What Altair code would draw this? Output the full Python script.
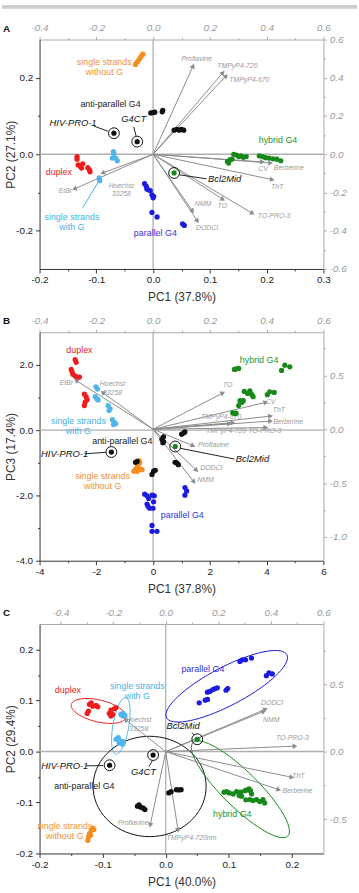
import math
import altair as alt
import pandas as pd

FONT = "Liberation Sans"
PLOT_W = 287
MINUS = "\u2212"

# point colours and label colours per structural family
POINT_COLORS = {
    "duplex": "#ee1c1c",
    "with G": "#52b4ec",
    "without G": "#f68d1e",
    "parallel": "#1c1ce0",
    "hybrid": "#16891a",
    "anti": "#111111",
}
TEXT_COLORS = {
    "duplex": "#e52424",
    "with G": "#48b2ea",
    "without G": "#f39233",
    "parallel": "#3434d8",
    "hybrid": "#23952a",
    "anti": "#222222",
}

# ---------------- panel A : PC1 vs PC2 ----------------
A_DUPLEX = [(-0.134, -0.006), (-0.134, -0.013), (-0.132, -0.028), (-0.128, -0.032), (-0.124, -0.025),
            (-0.126, -0.036), (-0.115, -0.035), (-0.112, -0.041), (-0.111, -0.046)]
A_WITH_G = [(-0.070, 0.007), (-0.069, 0.001), (-0.072, -0.010), (-0.066, -0.010), (-0.063, -0.017),
            (-0.095, -0.062), (-0.094, -0.069)]
A_WITHOUT_G = [(-0.031, 0.235), (-0.028, 0.241), (-0.025, 0.247), (-0.022, 0.254), (-0.019, 0.260),
               (-0.018, 0.262)]
A_PARALLEL = [(-0.015, -0.077), (-0.012, -0.084), (-0.011, -0.091), (-0.008, -0.093), (-0.005, -0.095),
              (-0.002, -0.106), (0.001, -0.110), (0.000, -0.114), (-0.002, -0.152), (0.007, -0.164),
              (0.052, -0.182), (0.055, -0.186)]
A_HYBRID = [(0.131, -0.019), (0.135, -0.015), (0.133, -0.023), (0.139, -0.013), (0.142, 0.000),
            (0.147, -0.002), (0.151, -0.006), (0.155, -0.004), (0.159, -0.008), (0.164, -0.006),
            (0.187, -0.004), (0.193, -0.006), (0.198, -0.009), (0.204, -0.010), (0.211, -0.012),
            (0.218, -0.013), (0.225, -0.017)]
A_ANTI = [(-0.004, 0.108), (0.000, 0.109), (0.003, 0.110), (0.017, 0.115), (0.016, 0.111),
          (0.037, 0.063), (0.042, 0.065), (0.046, 0.063), (0.050, 0.065), (0.054, 0.063)]
A_MARKED = [("HIV-PRO-1", -0.069, 0.055, "anti"), ("G4CT", -0.028, 0.033, "anti"),
            ("Bcl2Mid", 0.037, -0.049, "hybrid")]
A_PROBES = ["Proflavine", "TMPyP4-720", "TMPyP4-670", "CV", "Berberine", "ThT", "TO-PRO-3", "TO",
            "NMM", "DODCI", "EtBr", "Hoechst\n33258"]
A_LOAD_X = [0.141, 0.246, 0.257, 0.385, 0.414, 0.420, 0.350, 0.246, 0.139, 0.156, -0.277, -0.178]
A_LOAD_Y = [0.462, 0.427, 0.410, -0.040, -0.046, -0.133, -0.309, -0.236, -0.297, -0.349, -0.181, -0.098]
A_LABEL_X = [0.153, 0.297, 0.339, 0.387, 0.478, 0.437, 0.426, 0.244, 0.176, 0.190, -0.309, -0.112]
A_LABEL_Y = [0.500, 0.462, 0.388, -0.076, -0.072, -0.173, -0.323, -0.271, -0.259, -0.388, -0.190, -0.164]
A_GROUP_LABELS = [("single strands\nwithout G", -0.086, 0.2405, "without G"),
                  ("anti-parallel G4", -0.075, 0.1306, "anti"),
                  ("hybrid G4", 0.220, 0.037, "hybrid"),
                  ("duplex", -0.166, -0.047, "duplex"),
                  ("single strands\nwith G", -0.143, -0.164, "with G"),
                  ("parallel G4", 0.004, -0.205, "parallel")]
A_NAME_LABELS = [("HIV-PRO-1", -0.141, 0.082), ("G4CT", -0.034, 0.091), ("Bcl2Mid", 0.126, -0.065)]
A_LEADERS = [(-0.104, 0.0735, -0.080, 0.0605, "anti"), (-0.034, 0.0717, -0.030, 0.0475, "anti"),
             (0.0465, -0.0538, 0.094, -0.0642, "anti"), (-0.0977, -0.0753, -0.124, -0.140, "with G")]

# ---------------- panel B : PC1 vs PC3 ----------------
B_DUPLEX = [(-2.746, 2.163), (-2.711, 2.081), (-2.885, 1.861), (-2.850, 1.780), (-2.826, 1.710),
            (-2.746, 1.659), (-2.676, 1.629), (-2.596, 1.629), (-2.422, 1.107), (-2.362, 1.026),
            (-2.328, 0.935), (-2.397, 0.854), (-2.422, 0.754)]
B_WITH_G = [(-2.014, 1.327), (-1.955, 1.258), (-2.038, 1.026), (-1.979, 0.956), (-1.934, 0.926),
            (-1.585, 0.754), (-1.516, 0.655), (-1.551, 0.603), (-1.432, 0.323), (-1.376, 0.250),
            (-1.397, 0.172), (-1.317, 0.202)]
B_WITHOUT_G = [(-0.50, -0.93), (-0.47, -1.00), (-0.54, -1.09), (-0.56, -1.15), (-0.62, -1.19),
               (-0.68, -1.26), (-0.56, -1.26), (-0.45, -1.19), (-0.39, -1.21), (-0.50, -0.96)]
B_PARALLEL = [(-0.296, -1.961), (-0.213, -2.012), (-0.157, -2.090), (-0.038, -1.991), (0.042, -2.012),
              (-0.213, -2.262), (-0.178, -2.332), (-0.122, -2.392), (-0.003, -2.392), (0.017, -2.193),
              (-0.038, -2.917), (-0.038, -3.098), (0.136, -3.098), (1.122, -1.759), (1.181, -1.861),
              (1.122, -1.991)]
B_HYBRID = [(2.864, 1.861), (2.944, 1.879), (3.014, 1.891), (3.213, 1.186), (3.328, 1.125),
            (3.411, 1.207), (3.481, 1.086), (3.526, 1.026), (3.063, 0.905), (3.132, 0.854),
            (3.178, 0.905), (3.014, 0.754), (2.805, 0.534), (2.875, 0.504), (2.923, 0.522),
            (4.024, 1.086), (4.108, 1.176), (4.268, 1.155), (4.526, 1.831), (4.641, 1.991),
            (4.815, 1.940)]
B_ANTI = [(0.310, -0.281), (0.366, -0.353), (0.345, -0.383), (0.366, -0.202), (1.007, -0.121),
          (1.087, -0.081), (1.122, -0.051), (-0.620, -0.986), (-0.561, -0.956), (0.774, -0.986),
          (0.833, -1.005), (0.889, -1.056), (-0.038, -1.357), (0.017, -1.258), (0.077, -1.228)]
B_MARKED = [("HIV-PRO-1", -1.47, -0.67, "anti"), ("Bcl2Mid", 0.78, -0.50, "hybrid")]
B_PROBES = ["EtBr", "Hoechst\n33258", "TO", "CV", "ThT", "Berberine", "TMPyP4-670", "TMPyP4-720",
            "TO-PRO-3", "Proflavine", "DODCI", "NMM"]
B_LOAD_X = [-0.271, -0.178, 0.246, 0.397, 0.414, 0.414, 0.281, 0.269, 0.397, 0.141, 0.153, 0.144]
B_LOAD_Y = [0.452, 0.342, 0.337, 0.250, 0.122, 0.076, 0.061, 0.052, 0.016, -0.153, -0.382, -0.489]
B_LABEL_X = [-0.306, -0.143, 0.263, 0.414, 0.443, 0.476, 0.240, 0.257, 0.394, 0.213, 0.205, 0.185]
B_LABEL_Y = [0.425, 0.422, 0.406, 0.254, 0.174, 0.067, 0.113, -0.016, -0.016, -0.147, -0.361, -0.474]
B_GROUP_LABELS = [("duplex", -2.596, 2.465, "duplex"),
                  ("hybrid G4", 3.735, 2.163, "hybrid"),
                  ("single strands\nwith G", -2.631, 0.287, "with G"),
                  ("anti-parallel G4", -1.084, -0.323, "anti"),
                  ("single strands\nwithout G", -1.78, -1.418, "without G"),
                  ("parallel G4", 1.028, -2.594, "parallel")]
B_NAME_LABELS = [("HIV-PRO-1", -3.118, -0.724), ("Bcl2Mid", 3.502, -0.875)]
B_LEADERS = [(-2.42, -0.724, -1.666, -0.679, "anti"), (0.948, -0.553, 2.864, -0.885, "anti")]

# ---------------- panel C : PC1 vs PC2 (second analysis) ----------------
C_DUPLEX = [(-0.1245, 0.0747), (-0.1225, 0.0791), (-0.1209, 0.0922), (-0.1182, 0.0955), (-0.1156, 0.0889),
            (-0.1104, 0.0903), (-0.1077, 0.0877), (-0.0895, 0.0747), (-0.0868, 0.0694), (-0.0841, 0.0727),
            (-0.0868, 0.0811), (-0.0816, 0.0838), (-0.0789, 0.0858)]
C_WITH_G = [(-0.0711, 0.0727), (-0.0675, 0.0747), (-0.0648, 0.0708), (-0.0679, 0.0694), (-0.0789, 0.0240),
            (-0.0753, 0.0273), (-0.0711, 0.0207), (-0.0668, 0.0187), (-0.0737, 0.0162), (-0.0684, 0.0142)]
C_WITHOUT_G = [(-0.1234, -0.1743), (-0.1225, -0.1676), (-0.1209, -0.1612), (-0.1182, -0.1548),
               (-0.1156, -0.1501), (-0.1140, -0.1528), (-0.1193, -0.1645)]
C_PARALLEL = [(0.0531, 0.0955), (0.0626, 0.1006), (0.0662, 0.1020), (0.0662, 0.1162), (0.0704, 0.1181),
              (0.0747, 0.1214), (0.0783, 0.1234), (0.0819, 0.1248), (0.0956, 0.1201), (0.0983, 0.1234),
              (0.1176, 0.1766), (0.1212, 0.1799), (0.1266, 0.1799), (0.1360, 0.1832), (0.1596, 0.1487),
              (0.1637, 0.1540), (0.1690, 0.1520)]
C_HYBRID = [(0.0925, -0.0799), (0.0967, -0.0788), (0.1008, -0.0813), (0.1071, -0.0832), (0.1124, -0.0788),
            (0.1187, -0.0799), (0.1255, -0.0768), (0.1291, -0.0754), (0.1322, -0.0735), (0.1344, -0.0768),
            (0.1360, -0.0832), (0.1270, -0.0949), (0.1333, -0.0943), (0.1385, -0.0963), (0.1439, -0.0943),
            (0.1491, -0.0982), (0.1542, -0.0943), (0.1569, -0.1008), (0.1165, -0.0865), (0.1203, -0.0877)]
C_ANTI = [(0.0049, -0.0813), (0.0086, -0.0788), (0.0170, -0.0749), (0.0206, -0.0754), (0.0244, -0.0749),
          (-0.0448, -0.1072), (-0.0423, -0.1047), (-0.0396, -0.1092), (-0.0354, -0.1111), (-0.0329, -0.1138)]
C_MARKED = [("HIV-PRO-1", -0.089, -0.027, "anti"), ("G4CT", -0.020, -0.007, "anti"),
            ("Bcl2Mid", 0.050, 0.024, "hybrid")]
C_PROBES = ["DODCI", "NMM", "TO-PRO-3", "ThT", "Berberine", "Proflavine", "TMPyP4-720nm", "Hoechst\n33258"]
C_LOAD_X = [0.380, 0.373, 0.492, 0.480, 0.430, -0.059, 0.047, -0.153]
C_LOAD_Y = [0.315, 0.298, 0.041, -0.190, -0.282, -0.545, -0.582, 0.237]
C_LABEL_X = [0.405, 0.402, 0.482, 0.505, 0.501, -0.124, 0.098, -0.103]
C_LABEL_Y = [0.359, 0.237, 0.103, -0.179, -0.291, -0.526, -0.643, 0.235]
C_GROUP_LABELS = [("duplex", -0.155, 0.120, "duplex"),
                  ("single strands\nwith G", -0.045, 0.1287, "with G"),
                  ("parallel G4", 0.059, 0.1624, "parallel"),
                  ("anti-parallel G4", -0.129, -0.0682, "anti"),
                  ("hybrid G4", 0.1055, -0.1222, "hybrid"),
                  ("single strands\nwithout G", -0.160, -0.146, "without G")]
C_NAME_LABELS = [("Bcl2Mid", 0.0275, 0.0499), ("HIV-PRO-1", -0.160, -0.0281), ("G4CT", -0.0354, -0.0398)]
C_LEADERS = [(0.0417, 0.037, 0.0453, 0.032, "anti"), (-0.1261, -0.0281, -0.0994, -0.0277, "anti"),
             (-0.0266, -0.0292, -0.0215, -0.0189, "anti")]
# group ellipses: centre and two conjugate semi-diameters (score units)
C_ELLIPSES = [("duplex", -0.1064, 0.0795, 0.0432, -0.0127, -0.0039, -0.0209),
              ("with G", -0.0711, 0.0503, 0.0079, 0.0556, 0.0124, -0.0027),
              ("parallel", 0.0967, 0.1279, 0.0954, 0.0618, 0.0140, -0.0333),
              ("anti", -0.0255, -0.0686, 0.0896, 0.0, 0.0, 0.0984),
              ("hybrid", 0.1184, -0.0741, 0.0752, -0.0916, 0.0198, 0.0250)]

PANELS = [
    dict(letter="A", height=232, top_bar=True,
         xdom=[-0.2, 0.3], ydom=[-0.3, 0.3], lxdom=[-0.4, 0.6], lydom=[-0.6, 0.6],
         xticks=[-0.2, -0.1, 0.0, 0.1, 0.2, 0.3], xminor=[-0.15, -0.05, 0.05, 0.15, 0.25], xfmt=".1f",
         yticks=[-0.2, 0.0, 0.2], yminor=[-0.1, 0.1], yfmt=".1f",
         lxticks=[-0.4, -0.2, 0.0, 0.2, 0.4, 0.6], lxminor=[-0.3, -0.1, 0.1, 0.3, 0.5],
         lyticks=[-0.6, -0.4, -0.2, 0.0, 0.2, 0.4, 0.6], lyminor=[-0.5, -0.3, -0.1, 0.1, 0.3, 0.5],
         xtitle="PC1 (37.8%)", ytitle="PC2 (27.1%)",
         groups={"duplex": A_DUPLEX, "with G": A_WITH_G, "without G": A_WITHOUT_G,
                 "parallel": A_PARALLEL, "hybrid": A_HYBRID, "anti": A_ANTI},
         marked=A_MARKED, probes=A_PROBES, lx=A_LOAD_X, ly=A_LOAD_Y, tx=A_LABEL_X, ty=A_LABEL_Y,
         group_labels=A_GROUP_LABELS, name_labels=A_NAME_LABELS, leaders=A_LEADERS, ellipses=[]),
    dict(letter="B", height=231, top_bar=False,
         xdom=[-4, 6], ydom=[-4, 3], lxdom=[-0.4, 0.6], lydom=[-1.22, 0.9],
         xticks=[-4, -2, 0, 2, 4, 6], xminor=[-3, -1, 1, 3, 5], xfmt="d",
         yticks=[-4.0, -2.0, 0.0, 2.0], yminor=[-3, -1, 1], yfmt=".1f",
         lxticks=[-0.4, -0.2, 0.0, 0.2, 0.4, 0.6], lxminor=[-0.3, -0.1, 0.1, 0.3, 0.5],
         lyticks=[-1.0, -0.5, 0.0, 0.5], lyminor=[-0.75, -0.25, 0.25, 0.75],
         xtitle="PC1 (37.8%)", ytitle="PC3 (17.4%)",
         groups={"duplex": B_DUPLEX, "with G": B_WITH_G, "without G": B_WITHOUT_G,
                 "parallel": B_PARALLEL, "hybrid": B_HYBRID, "anti": B_ANTI},
         marked=B_MARKED, probes=B_PROBES, lx=B_LOAD_X, ly=B_LOAD_Y, tx=B_LABEL_X, ty=B_LABEL_Y,
         group_labels=B_GROUP_LABELS, name_labels=B_NAME_LABELS, leaders=B_LEADERS, ellipses=[]),
    dict(letter="C", height=232, top_bar=False,
         xdom=[-0.2, 0.25], ydom=[-0.2, 0.25], lxdom=[-0.48, 0.6], lydom=[-0.755, 0.946],
         xticks=[-0.2, -0.1, 0.0, 0.1, 0.2], xminor=[-0.15, -0.05, 0.05, 0.15], xfmt=".1f",
         yticks=[-0.2, -0.1, 0.0, 0.1, 0.2], yminor=[-0.15, -0.05, 0.05, 0.15], yfmt=".1f",
         lxticks=[-0.4, -0.2, 0.0, 0.2, 0.4, 0.6], lxminor=[-0.3, -0.1, 0.1, 0.3, 0.5],
         lyticks=[-0.5, 0.0, 0.5], lyminor=[-0.25, 0.25, 0.75],
         xtitle="PC1 (40.0%)", ytitle="PC2 (29.4%)",
         groups={"duplex": C_DUPLEX, "with G": C_WITH_G, "without G": C_WITHOUT_G,
                 "parallel": C_PARALLEL, "hybrid": C_HYBRID, "anti": C_ANTI},
         marked=C_MARKED, probes=C_PROBES, lx=C_LOAD_X, ly=C_LOAD_Y, tx=C_LABEL_X, ty=C_LABEL_Y,
         group_labels=C_GROUP_LABELS, name_labels=C_NAME_LABELS, leaders=C_LEADERS, ellipses=C_ELLIPSES),
]


def lbl(fmt):
    return f"replace(format(datum.value, '{fmt}'), '{MINUS}', '-')"


MAIN_STYLE = dict(domainColor="#333333", tickColor="#333333", labelColor="#222222",
                  labelFont=FONT, labelFontSize=10, grid=False, labelFlush=False, labelOverlap=False)
SIDE_STYLE = dict(domainColor="#aaaaaa", tickColor="#aaaaaa", labelColor="#9a9a9a",
                  labelFont=FONT, labelFontSize=10, labelFontStyle="italic", grid=False,
                  labelFlush=False, labelOverlap=False)
MINOR_STYLE = dict(labels=False, domain=False, tickSize=2, grid=False, title=None)


def qx(field, dom, axis=None):
    return alt.X(field, type="quantitative", scale=alt.Scale(domain=dom, nice=False, zero=False), axis=axis)


def qy(field, dom, axis=None):
    return alt.Y(field, type="quantitative", scale=alt.Scale(domain=dom, nice=False, zero=False), axis=axis)


def build_panel(p):
    H = p["height"]
    layers = []
    corner = pd.DataFrame({"x": [p["xdom"][0]], "y": [p["ydom"][0]],
                           "lx": [p["lxdom"][0]], "ly": [p["lydom"][0]]})

    # bottom / left axes (scores)
    x_axis = alt.Axis(orient="bottom", values=p["xticks"], labelExpr=lbl(p["xfmt"]), tickSize=4,
                      labelPadding=2, title=p["xtitle"], titleFont=FONT, titleFontSize=12,
                      titleFontWeight="normal", titleColor="#333333", titleY=23, titleBaseline="top",
                      **MAIN_STYLE)
    y_axis = alt.Axis(orient="left", values=p["yticks"], labelExpr=lbl(p["yfmt"]), tickSize=4,
                      labelPadding=3, title=p["ytitle"], titleFont=FONT, titleFontSize=12,
                      titleFontWeight="normal", titleColor="#333333", titleX=-29, titleY=H / 2,
                      titleAngle=270, titleBaseline="middle", titleAlign="center", **MAIN_STYLE)
    layers.append(alt.Chart(corner).mark_point(size=1, opacity=0).encode(
        x=qx("x", p["xdom"], x_axis), y=qy("y", p["ydom"], y_axis)))
    layers.append(alt.Chart(corner).mark_point(size=1, opacity=0).encode(
        x=qx("x", p["xdom"], alt.Axis(orient="bottom", values=p["xminor"], tickColor="#333333", **MINOR_STYLE)),
        y=qy("y", p["ydom"], alt.Axis(orient="left", values=p["yminor"], tickColor="#333333", **MINOR_STYLE))))

    # top / right axes (loadings)
    lx_axis = alt.Axis(orient="top", values=p["lxticks"], labelExpr=lbl(".1f"), tickSize=3,
                       labelPadding=4, title=None, **SIDE_STYLE)
    ly_axis = alt.Axis(orient="right", values=p["lyticks"], labelExpr=lbl(".1f"), tickSize=3,
                       labelPadding=3, title=None, **SIDE_STYLE)
    layers.append(alt.Chart(corner).mark_point(size=1, opacity=0).encode(
        x=qx("lx", p["lxdom"], lx_axis), y=qy("ly", p["lydom"], ly_axis)))
    layers.append(alt.Chart(corner).mark_point(size=1, opacity=0).encode(
        x=qx("lx", p["lxdom"], alt.Axis(orient="top", values=p["lxminor"], tickColor="#aaaaaa", **MINOR_STYLE)),
        y=qy("ly", p["lydom"], alt.Axis(orient="right", values=p["lyminor"], tickColor="#aaaaaa", **MINOR_STYLE))))

    # zero lines
    zero = pd.DataFrame({"x": [0.0], "y": [0.0]})
    layers.append(alt.Chart(zero).mark_rule(color="#b0b0b0", strokeWidth=1.3).encode(x=qx("x", p["xdom"])))
    layers.append(alt.Chart(zero).mark_rule(color="#b0b0b0", strokeWidth=1.3).encode(y=qy("y", p["ydom"])))

    # group ellipses
    if p["ellipses"]:
        rows = []
        n = 72
        for g, cx, cy, ux, uy, vx, vy in p["ellipses"]:
            for i in range(n + 1):
                t = 2 * math.pi * i / n
                rows.append({"g": g, "i": i, "c": POINT_COLORS[g],
                             "x": cx + ux * math.cos(t) + vx * math.sin(t),
                             "y": cy + uy * math.cos(t) + vy * math.sin(t)})
        layers.append(alt.Chart(pd.DataFrame(rows)).mark_line(strokeWidth=1).encode(
            x=qx("x", p["xdom"]), y=qy("y", p["ydom"]), detail="g:N", order="i:Q",
            color=alt.Color("c:N", scale=None)))

    # loading arrows
    kx = PLOT_W / (p["lxdom"][1] - p["lxdom"][0])
    ky = H / (p["lydom"][1] - p["lydom"][0])
    arrows = pd.DataFrame({"probe": p["probes"], "lx": p["lx"], "ly": p["ly"],
                           "tx": p["tx"], "ty": p["ty"], "x0": 0.0, "y0": 0.0})
    arrows["ang"] = [(math.degrees(math.atan2(a * kx, b * ky)) + 360) % 360 for a, b in zip(p["lx"], p["ly"])]
    layers.append(alt.Chart(arrows).mark_rule(color="#8c8c8c", strokeWidth=1).encode(
        x=qx("x0", p["lxdom"]), y=qy("y0", p["lydom"]), x2="lx", y2="ly"))
    layers.append(alt.Chart(arrows).mark_point(shape="triangle-up", filled=True, size=30, color="#8c8c8c",
                                               opacity=1).encode(
        x=qx("lx", p["lxdom"]), y=qy("ly", p["lydom"]), angle=alt.Angle("ang:Q", scale=None)))
    layers.append(alt.Chart(arrows).mark_text(font=FONT, fontSize=7, fontStyle="italic", color="#9a9a9a",
                                              lineBreak="\n", lineHeight=9).encode(
        x=qx("tx", p["lxdom"]), y=qy("ty", p["lydom"]), text="probe:N"))

    # sample scores
    rows = []
    for g, pts in p["groups"].items():
        for x, y in pts:
            rows.append({"g": g, "x": x, "y": y, "c": POINT_COLORS[g]})
    for name, x, y, g in p["marked"]:
        rows.append({"g": g, "x": x, "y": y, "c": POINT_COLORS[g]})
    layers.append(alt.Chart(pd.DataFrame(rows)).mark_circle(size=28, opacity=1).encode(
        x=qx("x", p["xdom"]), y=qy("y", p["ydom"]), color=alt.Color("c:N", scale=None)))

    marked = pd.DataFrame(p["marked"], columns=["name", "x", "y", "g"])
    layers.append(alt.Chart(marked).mark_point(shape="circle", filled=False, size=120, color="#111111",
                                               strokeWidth=1, opacity=1).encode(
        x=qx("x", p["xdom"]), y=qy("y", p["ydom"])))

    leaders = pd.DataFrame(p["leaders"], columns=["x", "y", "x2", "y2", "g"])
    leaders["c"] = [TEXT_COLORS[g] for g in leaders["g"]]
    layers.append(alt.Chart(leaders).mark_rule(strokeWidth=1).encode(
        x=qx("x", p["xdom"]), y=qy("y", p["ydom"]), x2="x2", y2="y2", color=alt.Color("c:N", scale=None)))

    glabels = pd.DataFrame(p["group_labels"], columns=["t", "x", "y", "g"])
    glabels["c"] = [TEXT_COLORS[g] for g in glabels["g"]]
    layers.append(alt.Chart(glabels).mark_text(font=FONT, fontSize=9, lineBreak="\n", lineHeight=10).encode(
        x=qx("x", p["xdom"]), y=qy("y", p["ydom"]), text="t:N", color=alt.Color("c:N", scale=None)))

    nlabels = pd.DataFrame(p["name_labels"], columns=["t", "x", "y"])
    layers.append(alt.Chart(nlabels).mark_text(font=FONT, fontSize=9.5, fontStyle="italic", color="#111111").encode(
        x=qx("x", p["xdom"]), y=qy("y", p["ydom"]), text="t:N"))

    # panel letter
    layers.append(alt.Chart(pd.DataFrame({"t": [p["letter"]]})).mark_text(
        font=FONT, fontSize=10, fontWeight="bold", align="left", baseline="middle", color="#111111").encode(
        x=alt.value(-37), y=alt.value(-11), text="t:N"))

    if p["top_bar"]:
        layers.append(alt.Chart(pd.DataFrame({"t": [0]})).mark_rule(color="#cdcdcd", strokeWidth=4).encode(
            x=alt.value(-38), x2=alt.value(321), y=alt.value(-33)))

    return alt.layer(*layers).resolve_scale(x="independent", y="independent").properties(
        width=PLOT_W, height=H)


chart = alt.vconcat(*[build_panel(p) for p in PANELS], spacing=13).properties(
    padding={"left": 0, "top": 0, "right": 0, "bottom": 0}, background="white"
).configure_view(stroke=None)

chart.save("out.html", embed_options={"renderer": "svg", "actions": False})
